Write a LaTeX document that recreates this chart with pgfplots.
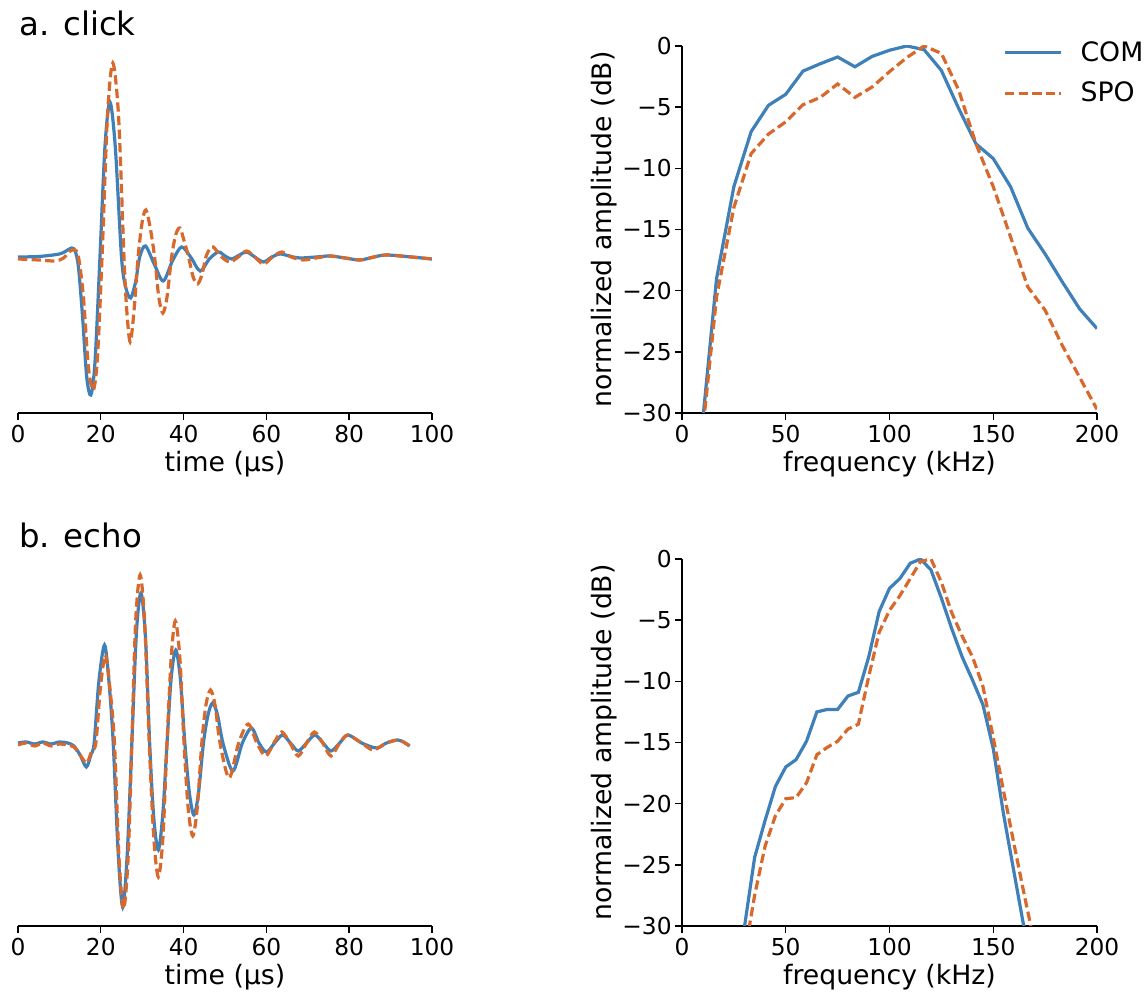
\documentclass[border=0pt]{standalone}
\usepackage{pgfplots}
\pgfplotsset{compat=1.18}
\usepackage{fontspec}
\setmainfont{DejaVu Sans}
\definecolor{cblue}{HTML}{3F80B8}
\definecolor{corange}{HTML}{D8692D}
\pgfplotsset{
  base/.style={scale only axis, tick align=outside, major tick length=3.5pt,
    /pgf/number format/assume math mode=true,
    tick style={black, line width=0.7pt},
    axis line style={black, line width=0.7pt},
    ticklabel style={font=\fontsize{11.65}{13.5}\selectfont},
    label style={font=\fontsize{13.35}{15.5}\selectfont},
    xticklabel style={anchor=north, inner sep=0pt, yshift=-2.5pt},
    yticklabel style={anchor=east, inner sep=0pt, xshift=-1.5pt},
    xlabel style={at={(axis description cs:0.5,-0.16)}, anchor=base},
  },
  wave/.style={base, width=207pt, height=184pt, axis x line*=bottom, hide y axis,
    xmin=0, xmax=100, xtick={0,20,40,60,80,100}, xlabel={time (µs)}},
  spec/.style={base, width=207.5pt, height=183.5pt, axis lines*=left,
    xmin=0, xmax=200, ymin=-30, ymax=0, xtick={0,50,100,150,200},
    ytick={-30,-25,-20,-15,-10,-5,0},
    yticklabels={−30,−25,−20,−15,−10,−5,0},
    xlabel={frequency (kHz)}, ylabel={normalized amplitude (dB)},
    ylabel style={at={(axis description cs:-0.1687,0.5)}, anchor=base}},
  com/.style={cblue, line width=1.6pt},
  spo/.style={corange, line width=1.6pt, dash pattern=on 4.65pt off 2.15pt},
}
\begin{document}
\begin{tikzpicture}
\path[use as bounding box] (0,0) rectangle (574pt,497pt);
\node[anchor=base west, inner sep=0pt, font=\fontsize{16.2}{19}\selectfont] at (9.5pt,479pt) {a. click};
\node[anchor=base west, inner sep=0pt, font=\fontsize{16.2}{19}\selectfont] at (9.5pt,223pt) {b. echo};

% a. click waveform
\begin{axis}[wave, at={(9pt,290.5pt)}, anchor=south west, ymin=-156, ymax=212]
\addplot[com, smooth] coordinates {
(0,0) (5,0.5) (10,3) (12,7) (13,9) (13.8,6) (14.6,-10) (15.6,-60) (16.6,-120) (17.6,-138)
(18.6,-105) (19.8,0) (21.0,110) (22.2,155) (23.5,110) (25.0,0) (26.0,-30) (27.2,-41)
(28.4,-25) (29.4,0) (30.8,11) (33,-8) (35.1,-24) (37.3,-4) (39.5,10) (41.7,0) (44,-14)
(46.2,-2) (48.4,5) (50,1) (51.6,-2) (53.5,2) (55.2,5) (57.2,0) (59.3,-5) (61.3,0) (63.3,3)
(65.5,1) (68,-1) (72,0) (75.4,1) (79,-1) (82.6,-3) (86,0) (89,2) (95,0) (100,-2)};
\addplot[spo, smooth] coordinates {
(0,-2) (5,-3) (9,-4) (11,-1) (13,7) (14.5,2) (15.8,-40) (17,-110) (18.2,-133) (19.2,-100)
(20.3,0) (21.6,140) (22.9,194) (24.3,140) (25.6,0) (26.3,-55) (27.1,-85) (28.0,-55)
(29.0,0) (30.0,35) (30.9,47) (31.9,30) (33.0,0) (34.0,-40) (35.0,-56) (36.0,-40) (37.1,0)
(38.1,22) (39.1,29) (40.2,15) (41.2,0) (42.3,-20) (43.4,-27) (44.4,-18) (45.4,0) (46.3,8)
(47.2,10) (49.2,0) (51.2,-5) (53.2,0) (55.2,6) (57.2,0) (59.3,-7) (61.5,0) (63.7,5) (66,0)
(68.9,-3) (72,-1) (75.4,1) (79,-1) (82.6,-3) (86,0) (89,2) (95,0) (100,-2)};
\end{axis}

% a. click spectrum
\begin{axis}[spec, at={(341pt,290.5pt)}, anchor=south west,
  legend style={draw=none, fill=none, at={(rel axis cs:0.7735,0.926)}, anchor=west,
    inner sep=0pt, row sep=5pt, column sep=7pt, font=\fontsize{13.35}{15.5}\selectfont},
  legend cell align=left,
  legend image code/.code={\draw[#1] (0pt,0pt) -- (28pt,0pt);}]
\addplot[com] coordinates {
(8.33,-33.5) (16.67,-19) (25,-11.5) (33.33,-7.0) (41.67,-4.85) (50,-3.95) (58.33,-2.05)
(66.67,-1.45) (75,-0.9) (83.33,-1.7) (91.67,-0.85) (100,-0.35) (108.33,0) (116.67,-0.3)
(125,-2.0) (133.33,-5.1) (141.67,-8.0) (150,-9.2) (158.33,-11.5) (166.67,-14.9) (175,-17.0)
(183.33,-19.3) (191.67,-21.5) (200,-23.1)};
\addlegendentry{COM}
\addplot[spo] coordinates {
(8.33,-34.2) (16.67,-20.5) (25,-13.2) (33.33,-8.8) (41.67,-7.2) (50,-6.2) (58.33,-4.8)
(66.67,-4.2) (75,-3.1) (83.33,-4.2) (91.67,-3.35) (100,-2.1) (108.33,-0.95) (116.67,0)
(125,-0.6) (133.33,-3.6) (141.67,-8.0) (150,-11.5) (158.33,-15.6) (166.67,-19.7) (175,-21.6)
(183.33,-24.5) (191.67,-27.1) (200,-29.7)};
\addlegendentry{SPO}
\end{axis}

% b. echo waveform
\begin{axis}[wave, at={(9pt,34pt)}, anchor=south west, ymin=-183, ymax=185]
\addplot[com, smooth] coordinates {
(0,0) (2,1) (4,-1) (6,1) (8,-1) (10,1) (12,0) (13.5,-3) (15,-12) (16.5,-24) (17.6,-12)
(18.4,0) (19.5,60) (20.9,98) (22.0,60) (23.0,0) (24.2,-110) (25.3,-164) (26.4,-110)
(27.5,0) (28.6,110) (29.7,150) (30.8,105) (31.8,0) (32.8,-75) (33.9,-107) (35.0,-70)
(36.0,0) (37.0,65) (38.1,93) (39.2,65) (40.3,0) (41.4,-50) (42.5,-72) (43.6,-50) (44.8,0)
(45.9,28) (47.0,40) (48.2,28) (49.5,0) (51.9,-28) (54.2,0) (56.4,15) (58.2,0) (60.0,-9)
(62,0) (63.9,8) (65.8,0) (67.7,-8) (69.7,0) (71.7,8) (73.7,0) (75.6,-8) (77.7,0) (79.7,8)
(83,0) (86.6,-5) (89,0) (91.8,3) (93.5,0) (94.6,-3)};
\addplot[spo, smooth] coordinates {
(0,-2) (2,0) (4,-3) (6,0) (8,-3) (10,-1) (12,-2) (13.5,-4) (15,-12) (16.6,-20) (17.8,-8)
(18.8,0) (19.9,55) (21.1,88) (22.2,55) (23.3,0) (24.4,-115) (25.5,-166) (26.6,-115)
(27.5,0) (28.4,120) (29.5,168) (30.6,120) (31.7,0) (32.8,-95) (33.9,-134) (35.0,-95)
(36.0,0) (37.0,85) (38.0,122) (39.1,85) (40.1,0) (41.1,-65) (42.2,-93) (43.3,-65) (44.4,0)
(45.4,38) (46.5,53) (47.6,38) (48.8,0) (51.0,-35) (53.3,0) (55.6,19) (57.7,0) (59.8,-13)
(61.8,0) (63.7,11) (65.7,0) (67.7,-13) (69.7,0) (71.6,11) (73.6,0) (75.6,-13) (77.7,0)
(79.7,8) (83,0) (85.8,-7) (89,0) (91.8,3) (93.5,0) (94.6,-3)};
\end{axis}

% b. echo spectrum
\begin{axis}[spec, at={(341pt,34pt)}, anchor=south west]
\addplot[com] coordinates {
(25,-37) (30,-30.2) (35,-24.4) (40,-21.4) (45,-18.6) (50,-17.0) (55,-16.4) (60,-14.9)
(65,-12.5) (70,-12.3) (75,-12.3) (80,-11.2) (85,-10.9) (90,-8.0) (95,-4.3) (100,-2.4)
(105,-1.6) (110,-0.35) (115,0) (120,-0.9) (125,-3.2) (130,-5.7) (135,-8.0) (140,-9.9)
(145,-11.9) (150,-15.5) (155,-20.9) (160,-25.6) (165,-30.3) (170,-35)};
\addplot[spo] coordinates {
(30,-32.5) (35,-27.5) (40,-23.5) (45,-21.0) (50,-19.6) (55,-19.5) (60,-18.3) (65,-16.0)
(70,-15.4) (75,-14.9) (80,-13.9) (85,-13.5) (90,-9.6) (95,-6.0) (100,-4.2) (105,-3.0)
(110,-1.6) (115,-0.2) (120,0) (125,-1.9) (130,-4.4) (135,-6.3) (140,-8.0) (145,-10.4)
(150,-14.6) (155,-19.0) (160,-23.3) (165,-27.5) (170,-31.5) (175,-36)};
\end{axis}
\end{tikzpicture}
\end{document}
